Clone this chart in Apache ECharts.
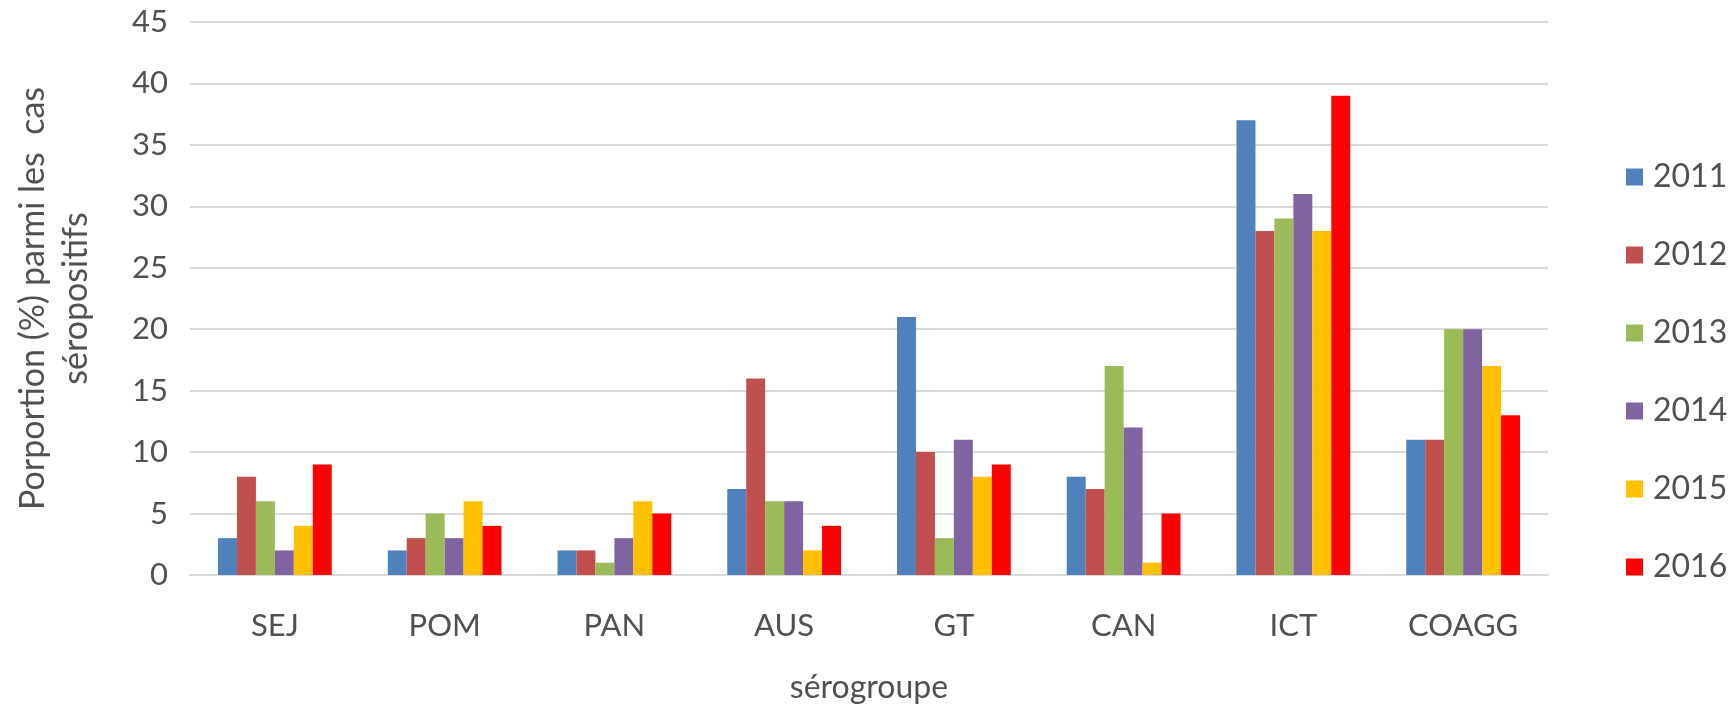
<!DOCTYPE html>
<html>
<head>
<meta charset="utf-8">
<script src="https://cdn.jsdelivr.net/npm/echarts@6/dist/echarts.min.js"></script>
<style>
html,body{margin:0;padding:0;background:#fff;}
#chart{width:1731px;height:707px;}
</style>
</head>
<body>
<div id="chart"></div>
<script>
const categories = ['SEJ','POM','PAN','AUS','GT','CAN','ICT','COAGG'];
const years = ['2011','2012','2013','2014','2015','2016'];
const v2011 = [3, 2, 2, 7, 21, 8, 37, 11];
const v2012 = [8, 3, 2, 16, 10, 7, 28, 11];
const v2013 = [6, 5, 1, 6, 3, 17, 29, 20];
const v2014 = [2, 3, 3, 6, 11, 12, 31, 20];
const v2015 = [4, 6, 6, 2, 8, 1, 28, 17];
const v2016 = [9, 4, 5, 4, 9, 5, 39, 13];
const yTicks = [0,5,10,15,20,25,30,35,40,45];
const colors = ['#4F81BD','#C0504D','#9BBB59','#8064A2','#FFC000','#FF0000'];
const seriesValues = [v2011, v2012, v2013, v2014, v2015, v2016];

const FONT = 'Lato';
const TXT = '#505050';

const chart = echarts.init(document.getElementById('chart'), null, {renderer:'canvas'});
chart.setOption({
  animation: false,
  textStyle: {fontFamily: FONT},
  grid: {left: 190, right: 1731-1548, top: 22, bottom: 707-575, containLabel: false, outerBoundsMode: 'none'},
  legend: {
    orient: 'vertical',
    left: 1621,
    top: 156,
    itemWidth: 17,
    itemHeight: 17,
    itemGap: 46,
    icon: 'rect',
    data: years,
    textStyle: {fontFamily: FONT, fontSize: 32, color: TXT, lineHeight: 32, padding: [0,0,0,5]}
  },
  xAxis: {
    type: 'category',
    data: categories,
    name: 'sérogroupe',
    nameLocation: 'middle',
    nameGap: 97,
    nameTextStyle: {fontFamily: FONT, fontSize: 32, color: TXT},
    axisLine: {lineStyle: {color: '#D9D9D9', width: 2}},
    axisTick: {show: false},
    axisLabel: {fontFamily: FONT, fontSize: 31, color: TXT, margin: 35}
  },
  yAxis: {
    type: 'value',
    min: yTicks[0],
    max: yTicks[yTicks.length-1],
    interval: 5,
    name: 'Porportion (%) parmi les  cas\nséropositifs',
    nameLocation: 'middle',
    nameRotate: 90,
    nameGap: 92,
    nameTextStyle: {fontFamily: FONT, fontSize: 34, color: TXT, lineHeight: 43},
    axisLine: {show: false},
    axisTick: {show: false},
    axisLabel: {fontFamily: FONT, fontSize: 31, color: TXT, margin: 22},
    splitLine: {lineStyle: {color: '#D9D9D9', width: 2}}
  },
  series: years.map((y, i) => ({
    name: y,
    type: 'bar',
    data: seriesValues[i],
    itemStyle: {color: colors[i]},
    barGap: '0%',
    barCategoryGap: '33%'
  }))
});
</script>
</body>
</html>
